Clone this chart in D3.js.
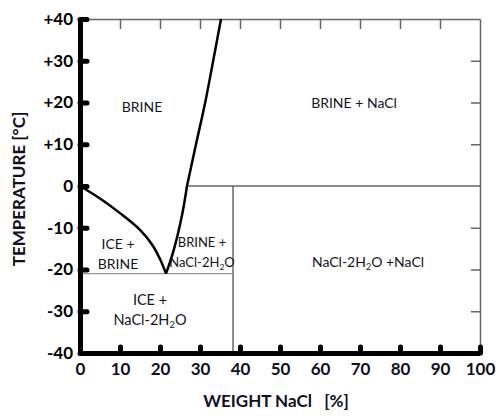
<!DOCTYPE html>
<html>
<head>
<meta charset="utf-8">
<script src="https://cdn.jsdelivr.net/npm/d3@7"></script>
<style>
  body { margin: 0; background: #fff; }
  svg text { font-family: Lato, "Open Sans", sans-serif; }
</style>
</head>
<body>
<svg id="chart"></svg>
<script>
// tick values and labels
const xTicks = [0, 10, 20, 30, 40, 50, 60, 70, 80, 90, 100];
const yTicks = [-40, -30, -20, -10, 0, 10, 20, 30, 40];
const yTickLabels = ["-40", "-30", "-20", "-10", "0", "+10", "+20", "+30", "+40"];
const topTicks = [10, 20, 30, 40, 50, 60, 70, 80, 90];
const rightTicks = [-30, -20, -10, 10, 20, 30];

// phase boundaries [weight %, temperature °C]
const iceLine = [[0, 0], [5, -3], [10, -6.5], [15, -10.5], [18, -14], [20, -17.5], [21.5, -21]];
const hydrateLine = [[21.5, -21], [23.3, -15.8], [25.5, -7], [26.75, 0]];
const saltLine = [[26.75, 0], [29, 10], [31.3, 20], [33.3, 30], [35.25, 40]];
const peritecticLine = [[26.75, 0], [100, 0]];
const eutecticLine = [[0, -21], [38.25, -21]];
const hydrateComp = [[38.25, 0], [38.25, -40]];

// region labels: x %, baseline T °C of first line, lines ("|2|" = subscript)
const regions = [
  { x: 15.5, t: 17.7, size: 14, lines: ["BRINE"] },
  { x: 68.5, t: 18.7, size: 14, lines: ["BRINE +  NaCl"] },
  { x: 9.5, t: -15, size: 14, lines: ["ICE +", "BRINE"] },
  { x: 30.5, t: -14.6, size: 13, lines: ["BRINE +", "NaCl-2H|2|O"] },
  { x: 17.5, t: -28.5, size: 14.5, lines: ["ICE +", "NaCl-2H|2|O"] },
  { x: 72, t: -19.5, size: 14, lines: ["NaCl-2H|2|O +NaCl"] },
];

const width = 501, height = 418;
const svg = d3.select("#chart").attr("width", width).attr("height", height);

const x = d3.scaleLinear().domain([0, 100]).range([80, 480]);
const y = d3.scaleLinear().domain([-40, 40]).range([353, 19]);

// thin frame: top and right
const topAxis = d3.axisTop(x).tickValues(topTicks).tickSize(-10).tickSizeOuter(0).tickFormat("");
svg.append("g").attr("transform", `translate(0,${y(40)})`).call(topAxis)
  .call(g => g.selectAll("path,line").attr("stroke", "#666").attr("stroke-width", 1.5));

const rightAxis = d3.axisRight(y).tickValues(rightTicks).tickSize(-9).tickSizeOuter(0).tickFormat("");
svg.append("g").attr("transform", `translate(${x(100)},0)`).call(rightAxis)
  .call(g => g.selectAll("path,line").attr("stroke", "#666").attr("stroke-width", 1.5));

// thin boundaries
const line = d3.line().x(d => x(d[0])).y(d => y(d[1]));
svg.append("path").attr("d", line(peritecticLine)).attr("stroke", "#666").attr("stroke-width", 1.5).attr("fill", "none");
svg.append("path").attr("d", line(hydrateComp)).attr("stroke", "#666").attr("stroke-width", 1.5).attr("fill", "none");
svg.append("path").attr("d", line(eutecticLine)).attr("stroke", "#999").attr("stroke-width", 1.2).attr("fill", "none");

// liquidus curves
const curve = d3.line().x(d => x(d[0])).y(d => y(d[1])).curve(d3.curveCatmullRom);
[iceLine, hydrateLine, saltLine].forEach(pts => {
  svg.append("path").attr("d", curve(pts)).attr("stroke", "#000")
    .attr("stroke-width", 2.5).attr("fill", "none").attr("stroke-linejoin", "round");
});

// thick axes
const xAxis = d3.axisBottom(x).tickValues(xTicks).tickSize(-6).tickSizeOuter(0).tickPadding(10);
svg.append("g").attr("transform", `translate(0,${y(-40)})`).call(xAxis)
  .call(g => {
    g.select(".domain").attr("stroke", "#000").attr("stroke-width", 5);
    g.selectAll(".tick line").attr("stroke", "#000").attr("stroke-width", 5).attr("stroke-linecap", "round");
    g.selectAll(".tick text").attr("font-size", 17).attr("font-weight", "bold").attr("fill", "#10101e")
      .attr("font-family", "Lato, sans-serif");
  });

const yAxis = d3.axisLeft(y).tickValues(yTicks).tickSize(-7).tickSizeOuter(0).tickPadding(7)
  .tickFormat((d, i) => yTickLabels[i]);
svg.append("g").attr("transform", `translate(${x(0)},0)`).call(yAxis)
  .call(g => {
    g.select(".domain").attr("stroke", "#000").attr("stroke-width", 5);
    g.selectAll(".tick line").attr("stroke", "#000").attr("stroke-width", 5).attr("stroke-linecap", "round");
    g.selectAll(".tick text").attr("font-size", 17).attr("font-weight", "bold").attr("fill", "#000")
      .attr("font-family", "Lato, sans-serif");
  });

// axis titles
svg.append("text")
  .attr("x", 276).attr("y", 407)
  .attr("text-anchor", "middle")
  .attr("font-size", 17).attr("font-weight", "bold").attr("fill", "#10101e")
  .attr("xml:space", "preserve")
  .text("WEIGHT NaCl   [%]");

svg.append("text")
  .attr("transform", "translate(25,189) rotate(-90)")
  .attr("text-anchor", "middle")
  .attr("font-size", 17).attr("font-weight", "bold").attr("fill", "#10101e")
  .text("TEMPERATURE [°C]");

// region labels
regions.forEach(r => {
  const t = svg.append("text")
    .attr("x", x(r.x)).attr("y", y(r.t))
    .attr("text-anchor", "middle")
    .attr("font-size", r.size).attr("fill", "#141420");
  r.lines.forEach((ln, i) => {
    const parts = ln.split("|");
    parts.forEach((p, j) => {
      const ts = t.append("tspan").text(p);
      if (j === 0) ts.attr("x", x(r.x)).attr("dy", i === 0 ? 0 : 20);
      if (j % 2 === 1) ts.attr("font-size", r.size * 0.65).attr("dy", 3);
      if (j > 0 && j % 2 === 0) ts.attr("dy", -3);
    });
  });
});
</script>
</body>
</html>
